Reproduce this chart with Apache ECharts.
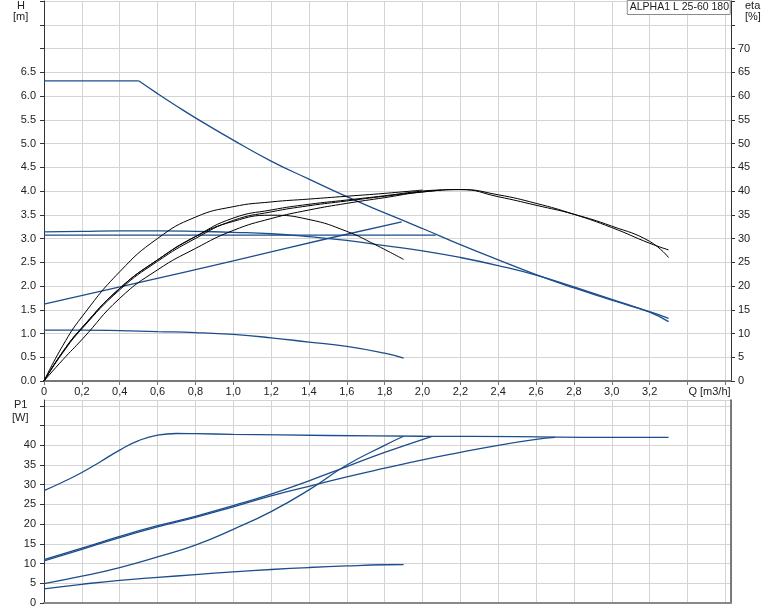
<!DOCTYPE html>
<html>
<head>
<meta charset="utf-8">
<script src="https://cdn.jsdelivr.net/npm/echarts@6/dist/echarts.min.js"></script>
<style>
html,body{margin:0;padding:0;background:#fff;}
#chart{width:774px;height:611px;}
</style>
</head>
<body>
<div id="chart"></div>
<script>
// ---------- DATA ----------
const title = 'ALPHA1 L 25-60 180';

// Head curves H [m] vs Q [m3/h]
const hMaxQ   = [0, 0.5, 0.6, 0.7, 0.8, 1.0, 1.2, 1.4, 1.6, 1.8, 2.0, 2.2, 2.4, 2.6, 2.8, 3.0, 3.2, 3.3];
const hMaxH   = [6.32, 6.32, 6.05, 5.79, 5.54, 5.07, 4.63, 4.25, 3.88, 3.54, 3.21, 2.87, 2.55, 2.24, 1.96, 1.70, 1.46, 1.32];
const hDeclQ  = [0, 0.2, 0.4, 0.6, 0.8, 1.0, 1.2, 1.4, 1.6, 1.8, 2.0, 2.2, 2.4, 2.6, 2.8, 3.0, 3.2, 3.3];
const hDeclH  = [3.14, 3.15, 3.16, 3.16, 3.15, 3.13, 3.10, 3.04, 2.96, 2.85, 2.74, 2.60, 2.43, 2.23, 1.98, 1.72, 1.45, 1.25];
const hConstQ = [0, 1.0, 2.07];
const hConstH = [3.07, 3.07, 3.07];
const hPropQ  = [0, 0.5, 1.0, 1.5, 1.89];
const hPropH  = [1.62, 2.07, 2.53, 3.0, 3.35];
const hLowQ   = [0, 0.2, 0.4, 0.6, 0.8, 1.0, 1.2, 1.4, 1.6, 1.8, 1.9];
const hLowH   = [1.07, 1.07, 1.06, 1.04, 1.02, 0.98, 0.91, 0.82, 0.73, 0.585, 0.48];

// Efficiency curves eta [%]
const eLowQ   = [0, 0.1, 0.2, 0.4, 0.6, 0.8, 1.0, 1.2, 1.4, 1.6, 1.75, 1.9];
const eLowE   = [0, 6.2, 11.2, 19.5, 25.5, 30.4, 33.6, 34.9, 34.0, 31.5, 28.7, 25.6];
const ePropQ  = [0, 0.1, 0.2, 0.4, 0.6, 0.8, 1.0, 1.2, 1.4, 1.6, 1.8, 2.0];
const ePropE  = [0, 7.5, 13.5, 23.0, 30.0, 34.5, 36.7, 37.7, 38.3, 38.9, 39.5, 40.2];
const eConstQ = [0, 0.1, 0.2, 0.4, 0.6, 0.8, 1.0, 1.2, 1.4, 1.6, 1.8, 2.0, 2.1];
const eConstE = [0, 6.2, 11.2, 19.5, 25.5, 30.4, 34.3, 36.0, 37.2, 38.1, 39.0, 40.0, 40.2];
const eDeclQ  = [0, 0.1, 0.2, 0.4, 0.6, 0.8, 1.0, 1.2, 1.4, 1.6, 1.8, 2.0, 2.2, 2.4, 2.6, 2.8, 3.0, 3.2, 3.3];
const eDeclE  = [0, 6.0, 11.0, 19.2, 25.2, 30.0, 33.8, 35.6, 36.9, 37.9, 38.9, 39.8, 40.3, 38.8, 37.0, 35.1, 32.6, 29.4, 26.0];
const eMaxQ   = [0, 0.1, 0.2, 0.4, 0.6, 0.8, 1.0, 1.2, 1.4, 1.6, 1.8, 2.0, 2.2, 2.4, 2.6, 2.8, 3.0, 3.2, 3.3];
const eMaxE   = [0, 4.5, 8.7, 17.4, 23.4, 27.9, 31.7, 34.2, 36.0, 37.4, 38.6, 39.8, 40.3, 39.2, 37.4, 35.1, 32.3, 29.0, 27.6];

// Power curves P1 [W]
const pMaxQ   = [0, 0.1, 0.2, 0.3, 0.4, 0.5, 0.6, 0.7, 0.8, 1.0, 1.5, 2.0, 2.5, 3.0, 3.3];
const pMaxP   = [28.5, 30.7, 33.1, 35.9, 38.8, 41.2, 42.6, 43.0, 42.95, 42.8, 42.5, 42.3, 42.2, 42.0, 42.0];
const pPropQ  = [0, 0.2, 0.4, 0.6, 0.8, 1.0, 1.2, 1.4, 1.6, 1.8, 1.9];
const pPropP  = [4.9, 6.8, 9.0, 11.7, 14.7, 18.7, 23.2, 28.7, 35.0, 40.0, 42.3];
const pConstQ = [0, 0.2, 0.4, 0.6, 0.8, 1.0, 1.2, 1.4, 1.6, 1.8, 2.05];
const pConstP = [11.0, 13.9, 16.9, 19.6, 22.0, 24.7, 27.6, 31.0, 34.6, 38.2, 42.3];
const pDeclQ  = [0, 0.2, 0.4, 0.6, 0.8, 1.0, 1.2, 1.4, 1.6, 1.8, 2.0, 2.2, 2.4, 2.6, 2.7];
const pDeclP  = [10.7, 13.6, 16.6, 19.3, 21.7, 24.4, 27.2, 29.6, 32.0, 34.2, 36.3, 38.2, 40.0, 41.5, 42.0];
const pLowQ   = [0, 0.2, 0.4, 0.6, 0.8, 1.0, 1.2, 1.4, 1.6, 1.8, 1.9];
const pLowP   = [3.6, 4.75, 5.75, 6.5, 7.2, 7.9, 8.5, 9.0, 9.4, 9.7, 9.75];

// ---------- CHART ----------
const BLUE = '#1c4d8c';
const FONT = 'Liberation Sans, Arial, sans-serif';
const zip = (a, b) => a.map((v, i) => [v, b[i]]);

function line(name, q, v, xi, yi, color, smooth) {
  return {
    name, type: 'line', xAxisIndex: xi, yAxisIndex: yi,
    data: zip(q, v), showSymbol: false, symbol: 'none',
    smooth: smooth === undefined ? 0.5 : smooth,
    lineStyle: { color, width: color === BLUE ? 1.3 : 1 },
    silent: true, z: color === BLUE ? 3 : 4
  };
}

const gridLine = { show: true, lineStyle: { color: '#d4d4d4', width: 1 } };
const lbl = { color: '#222', fontSize: 11, fontFamily: FONT };

function qLabel(v) {
  const r = Math.round(v * 100) / 100;
  if (Math.abs(r * 5 - Math.round(r * 5)) > 1e-6) return '';
  if (Math.abs(r - 3.4) < 1e-6) return '{q|Q [m3/h]}';
  if (r > 3.3) return '';
  if (r === 0) return '0';
  return r.toFixed(1).replace('.', ',');
}

const option = {
  animation: false,
  backgroundColor: '#fff',
  title: {
    text: title, right: 43, top: 0,
    padding: [2, 2, 2, 3],
    borderColor: '#8a8a8a', borderWidth: 1, backgroundColor: '#fff',
    textStyle: { fontSize: 10.5, fontWeight: 'normal', color: '#222', fontFamily: FONT },
    z: 10
  },
  grid: [
    { left: 44, right: 43, top: 1, height: 380, containLabel: false },
    { left: 44, right: 43, top: 400, height: 203, containLabel: false }
  ],
  xAxis: [
    {
      gridIndex: 0, type: 'value', min: 0, max: 3.63, interval: 0.2,
      axisLine: { show: true, onZero: false, lineStyle: { color: '#777', width: 2 } },
      axisTick: { show: true, length: 4, lineStyle: { color: '#777' } },
      axisLabel: Object.assign({}, lbl, { margin: 5, formatter: qLabel, showMaxLabel: false,
        rich: { q: { fontSize: 11, color: '#222', fontFamily: FONT, padding: [0, 0, 0, 44] } } }),
      splitLine: gridLine
    },
    {
      gridIndex: 1, type: 'value', min: 0, max: 3.63, interval: 0.2,
      axisLine: { show: true, onZero: false, lineStyle: { color: '#888', width: 2 } },
      axisTick: { show: false },
      axisLabel: { show: false },
      splitLine: gridLine
    }
  ],
  yAxis: [
    {
      gridIndex: 0, type: 'value', min: 0, max: 8, interval: 0.5, position: 'left',
      axisLine: { show: true, lineStyle: { color: '#333', width: 1 } },
      axisTick: { show: true, length: 4, lineStyle: { color: '#333' } },
      axisLabel: Object.assign({}, lbl, { margin: 8,
        formatter: v => (v <= 6.5 + 1e-9 ? v.toFixed(1) : '') }),
      splitLine: gridLine
    },
    {
      gridIndex: 0, type: 'value', min: 0, max: 80, interval: 5, position: 'right',
      axisLine: { show: true, lineStyle: { color: '#333', width: 1 } },
      axisTick: { show: true, length: 4, lineStyle: { color: '#333' } },
      axisLabel: Object.assign({}, lbl, { margin: 7,
        formatter: v => (v <= 70 ? String(v) : '') }),
      splitLine: { show: false }
    },
    {
      gridIndex: 1, type: 'value', min: 0, max: 51.5, interval: 5, position: 'left',
      axisLine: { show: true, lineStyle: { color: '#333', width: 1 } },
      axisTick: { show: true, length: 4, lineStyle: { color: '#333' } },
      axisLabel: Object.assign({}, lbl, { margin: 8, showMaxLabel: false,
        formatter: v => (v <= 40 ? String(v) : '') }),
      splitLine: gridLine
    },
    {
      gridIndex: 1, type: 'value', min: 0, max: 51.5, interval: 5, position: 'right',
      axisLine: { show: true, lineStyle: { color: '#555', width: 1.5 } },
      axisTick: { show: false }, axisLabel: { show: false }, splitLine: { show: false }
    }
  ],
  graphic: [
    { type: 'text', left: 17, top: 0, style: { text: 'H', font: '11px ' + FONT, fill: '#222' } },
    { type: 'text', left: 13, top: 11, style: { text: '[m]', font: '11px ' + FONT, fill: '#222' } },
    { type: 'text', left: 745, top: 0, style: { text: 'eta', font: '11px ' + FONT, fill: '#222' } },
    { type: 'text', left: 745, top: 11, style: { text: '[%]', font: '11px ' + FONT, fill: '#222' } },
    { type: 'text', left: 14, top: 399, style: { text: 'P1', font: '11px ' + FONT, fill: '#222' } },
    { type: 'text', left: 12, top: 412, style: { text: '[W]', font: '11px ' + FONT, fill: '#222' } }
  ],
  series: [
    line('H max flat', hMaxQ.slice(0, 2), hMaxH.slice(0, 2), 0, 0, BLUE, false),
    line('H max', hMaxQ.slice(1), hMaxH.slice(1), 0, 0, BLUE),
    line('H decl', hDeclQ, hDeclH, 0, 0, BLUE),
    line('H const', hConstQ, hConstH, 0, 0, BLUE, false),
    line('H prop', hPropQ, hPropH, 0, 0, BLUE),
    line('H low', hLowQ, hLowH, 0, 0, BLUE),
    line('eta low', eLowQ, eLowE, 0, 1, '#000'),
    line('eta prop', ePropQ, ePropE, 0, 1, '#000'),
    line('eta const', eConstQ, eConstE, 0, 1, '#000'),
    line('eta decl', eDeclQ, eDeclE, 0, 1, '#000'),
    line('eta max', eMaxQ, eMaxE, 0, 1, '#000'),
    line('P max', pMaxQ, pMaxP, 1, 2, BLUE),
    line('P prop', pPropQ, pPropP, 1, 2, BLUE),
    line('P const', pConstQ, pConstP, 1, 2, BLUE),
    line('P decl', pDeclQ, pDeclP, 1, 2, BLUE),
    line('P low', pLowQ, pLowP, 1, 2, BLUE)
  ]
};

const chart = echarts.init(document.getElementById('chart'), null, { renderer: 'canvas' });
chart.setOption(option);
</script>
</body>
</html>
